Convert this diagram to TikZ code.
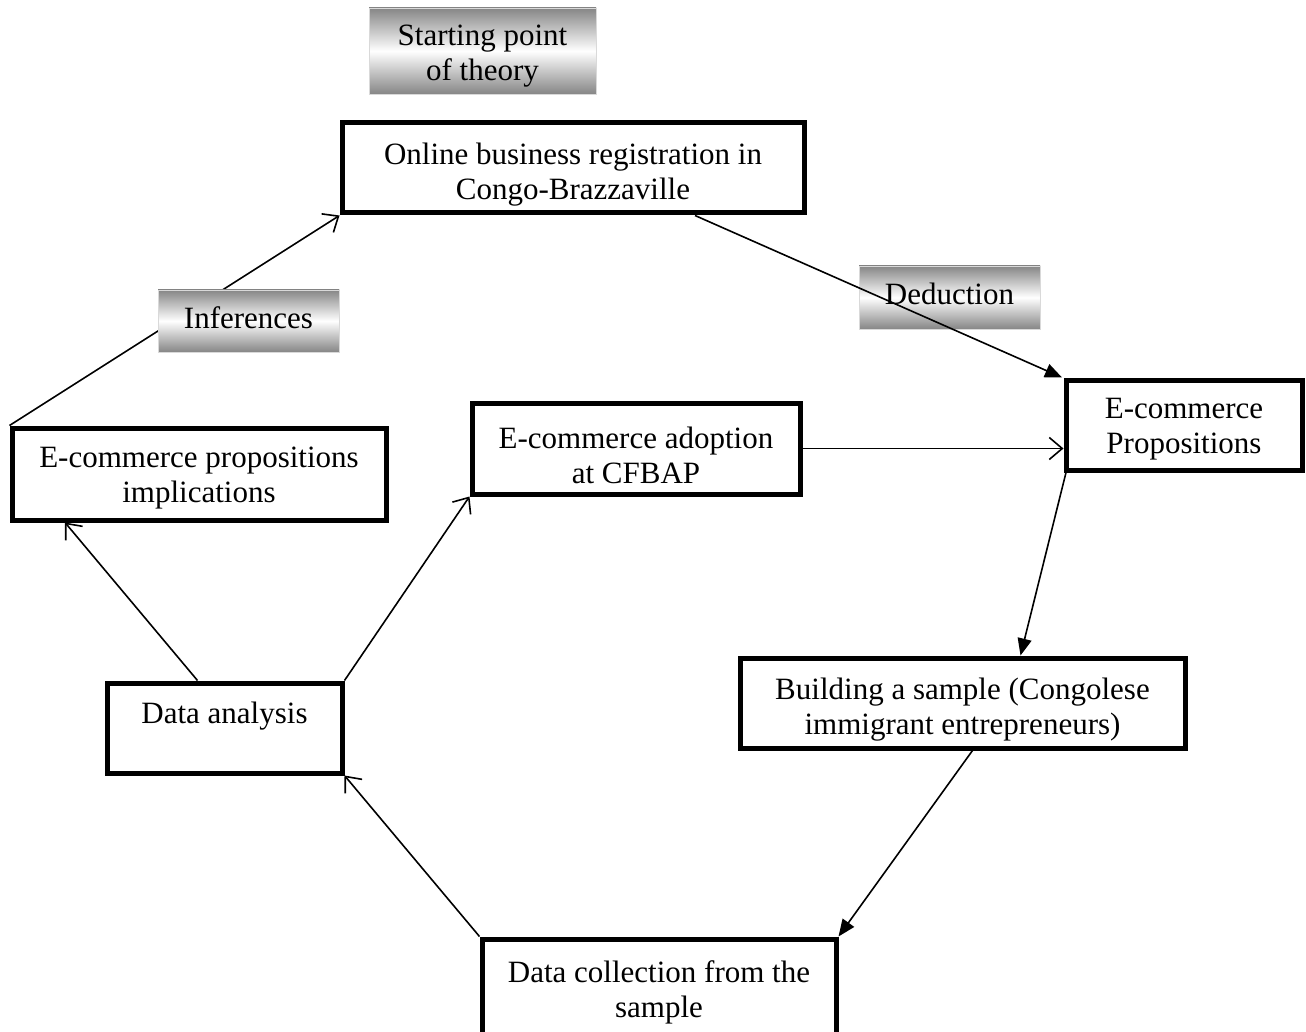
\documentclass[tikz,border=0pt]{standalone}
\usepackage{fontspec}
\setmainfont{Liberation Serif}
\usetikzlibrary{arrows.meta}
\begin{document}
\begin{tikzpicture}[x=1pt,y=-1pt,
  every node/.style={font=\fontsize{31}{35}\selectfont, align=center, inner sep=0pt},
  stage/.style={draw=black, line width=5pt, fill=white},
  tag/.style={top color=gray!95, bottom color=gray!95, middle color=white, draw=gray!30, line width=0.6pt},
  link/.style={line width=1.6pt},
  open/.style={link, -{Straight Barb[length=13pt,width=22pt,line width=1.6pt]}},
  solid/.style={link, -{Triangle[length=17pt,width=14pt]}}]
\useasboundingbox (0,0) rectangle (1306,1032);
\clip (0,0) rectangle (1306,1032);

% shaded captions
\node[tag, minimum width=227pt, minimum height=86pt] (start) at (482.5,51) {};
\node[tag, minimum width=181pt, minimum height=62pt] (infer) at (248.5,321) {};
\node[tag, minimum width=181pt, minimum height=63pt] (deduc) at (949.5,297.5) {};
\node (startT) at (482.5,56) {Starting point\\of theory};

% process boxes
\node[stage, minimum width=462pt, minimum height=90pt] (online) at (573,168) {};
\node[stage, minimum width=236pt, minimum height=90pt] (props) at (1184,425) {};
\node[stage, minimum width=328pt, minimum height=91pt] (adopt) at (636,448.5) {};
\node[stage, minimum width=374pt, minimum height=92pt] (impl) at (199,474) {};
\node[stage, minimum width=235pt, minimum height=90pt] (anal) at (224.5,728) {};
\node[stage, minimum width=445pt, minimum height=90pt] (build) at (962.5,703) {};
\node[stage, minimum width=354pt, minimum height=100pt] (coll) at (659,989) {};

% box texts
\node (onlineT) at (573,175) {Online business registration in\\Congo-Brazzaville};
\node (propsT) at (1184,429) {E-commerce\\Propositions};
\node (adoptT) at (636,455) {E-commerce adoption\\at CFBAP};
\node (implT) at (199,478) {E-commerce propositions\\implications};
\node (analT) at (224.5,716) {Data analysis};
\node (buildT) at (962.5,710) {Building a sample (Congolese\\immigrant entrepreneurs)};
\node (collT) at (659,992) {Data collection from the\\sample};

% inference path runs behind its caption
\draw[open] (impl.north west) -- (online.south west);
\node[tag, minimum width=181pt, minimum height=62pt] at (infer) {};
\node (inferT) at (248.5,318) {Inferences};

% deduction caption sits under its arrow
\node (deducT) at (949.5,294) {Deduction};
\draw[solid] ([xshift=122pt]online.south) -- ([xshift=-122pt]props.north);

\draw[open] (adopt.east) -- (props.west |- adopt.east);
\draw[solid] ([xshift=-118pt]props.south) -- ([xshift=58pt]build.north);
\draw[solid] ([xshift=10pt]build.south) -- (coll.north east);
\draw[open] (coll.north west) -- (anal.south east);
\draw[open] (anal.north east) -- (adopt.south west);
\draw[open] ([xshift=-27pt]anal.north) -- ([xshift=-134pt]impl.south);
\end{tikzpicture}
\end{document}
